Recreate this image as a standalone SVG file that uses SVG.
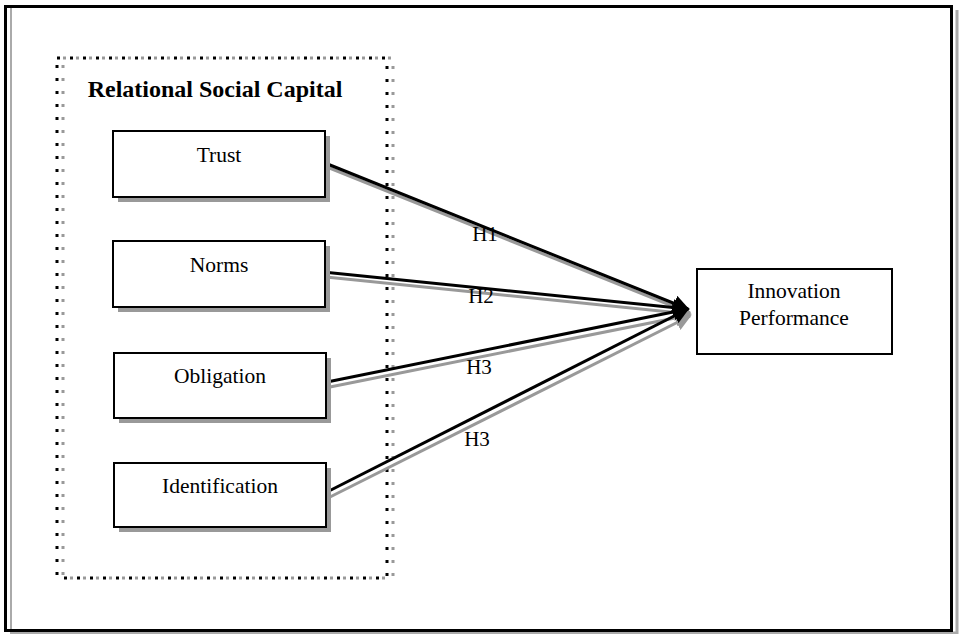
<svg xmlns="http://www.w3.org/2000/svg" width="960" height="634" viewBox="0 0 960 634">
<defs>
<style>
.box{fill:#fff;stroke:#000;stroke-width:2}
.shadow{fill:#999;stroke:none}
.lbl{font-family:"Liberation Serif","Times New Roman",serif;font-size:21.5px;fill:#000;text-anchor:middle}
.hl{font-family:"Liberation Serif","Times New Roman",serif;font-size:21px;fill:#000;text-anchor:middle}
.conn{stroke:#000;stroke-width:3;fill:none}
.connS{stroke:#999;stroke-width:3;fill:none}
</style>
<marker id="ah" viewBox="0 0 10 10" refX="9" refY="5" markerWidth="5.5" markerHeight="5.5" markerUnits="strokeWidth" orient="auto">
<path d="M0,0 L10,5 L0,10 z" fill="#000"/>
</marker>
<marker id="ahS" viewBox="0 0 10 10" refX="9" refY="5" markerWidth="5.5" markerHeight="5.5" markerUnits="strokeWidth" orient="auto">
<path d="M0,0 L10,5 L0,10 z" fill="#999"/>
</marker>
</defs>
<rect width="960" height="634" fill="#fff"/>
<g id="frame">
<line x1="957" y1="10" x2="957" y2="634" stroke="#aaa" stroke-width="3"/>
<line x1="10" y1="633" x2="957" y2="633" stroke="#aaa" stroke-width="3"/>
<line x1="11" y1="8" x2="11" y2="630" stroke="#aaa" stroke-width="2"/>
<rect x="5.5" y="6.5" width="946" height="624" fill="none" stroke="#000" stroke-width="3"/>
</g>
<g id="group-relational">
<rect x="63" y="58" width="330" height="520" fill="none" stroke="#999" stroke-width="3" stroke-dasharray="3 10"/>
<rect x="57" y="58" width="330" height="520" fill="none" stroke="#000" stroke-width="3" stroke-dasharray="3 10"/>
<text x="215" y="97" font-family="'Liberation Serif','Times New Roman',serif" font-size="24" font-weight="bold" text-anchor="middle">Relational Social Capital</text>
</g>
<g id="connectors">
<line class="connS" x1="327" y1="167" x2="690" y2="313" marker-end="url(#ahS)"/>
<line class="connS" x1="326" y1="277" x2="690" y2="314" marker-end="url(#ahS)"/>
<line class="connS" x1="330" y1="387" x2="690" y2="315" marker-end="url(#ahS)"/>
<line class="connS" x1="330" y1="497" x2="690" y2="316" marker-end="url(#ahS)"/>
<line class="conn" x1="325" y1="163" x2="688" y2="309" marker-end="url(#ah)"/>
<line class="conn" x1="323" y1="272" x2="688" y2="309" marker-end="url(#ah)"/>
<line class="conn" x1="327" y1="382" x2="688" y2="309" marker-end="url(#ah)"/>
<line class="conn" x1="327" y1="492" x2="688" y2="309" marker-end="url(#ah)"/>
<text class="hl" x="485" y="241">H1</text>
<text class="hl" x="481" y="303">H2</text>
<text class="hl" x="479" y="374">H3</text>
<text class="hl" x="477" y="446">H3</text>
</g>
<g id="node-trust">
<rect class="shadow" x="118" y="136" width="212" height="66"/>
<rect class="box" x="113" y="131" width="212" height="66"/>
<text class="lbl" x="219" y="162">Trust</text>
</g>
<g id="node-norms">
<rect class="shadow" x="118" y="246" width="212" height="66"/>
<rect class="box" x="113" y="241" width="212" height="66"/>
<text class="lbl" x="219" y="272">Norms</text>
</g>
<g id="node-obligation">
<rect class="shadow" x="119" y="358" width="212" height="65"/>
<rect class="box" x="114" y="353" width="212" height="65"/>
<text class="lbl" x="220" y="383">Obligation</text>
</g>
<g id="node-identification">
<rect class="shadow" x="119" y="468" width="212" height="64"/>
<rect class="box" x="114" y="463" width="212" height="64"/>
<text class="lbl" x="220" y="493">Identification</text>
</g>
<g id="node-innovation">
<rect class="box" x="697" y="269" width="195" height="85" stroke-width="2.5"/>
<text class="lbl" x="794" y="298">Innovation</text>
<text class="lbl" x="794" y="325">Performance</text>
</g>
</svg>
